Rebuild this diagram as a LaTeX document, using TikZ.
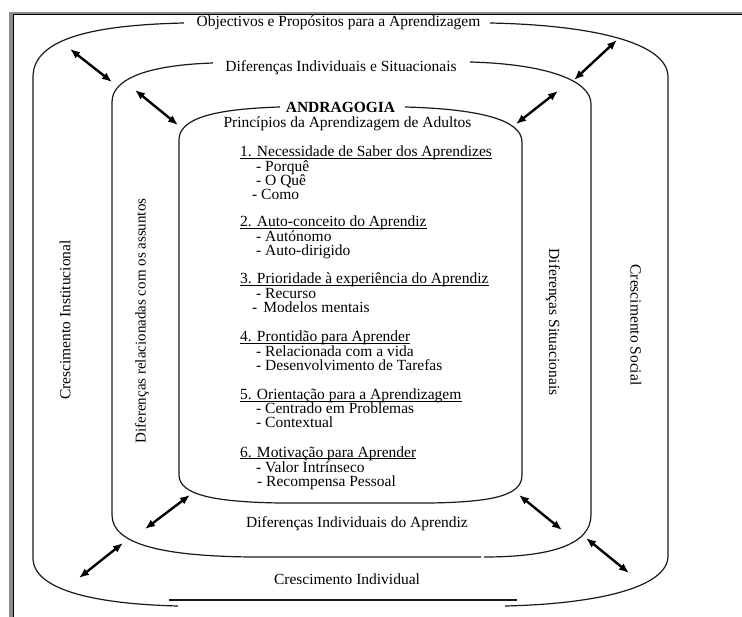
\documentclass[tikz,border=0pt]{standalone}
\usepackage{fontspec}
\setmainfont{Liberation Serif}
\usetikzlibrary{arrows.meta}
\begin{document}
\begin{tikzpicture}[x=1pt,y=-1pt,
  shapeline/.style={draw=black!90, line width=1.2pt},
  biarrow/.style={{Latex[length=10pt,width=8pt]}-{Latex[length=10pt,width=8pt]}, line width=2.4pt},
  txt/.style={font=\fontsize{15.5}{14}\selectfont, inner sep=0pt},
  item/.style={txt, anchor=base west},
  head/.style={item},
  uline/.style={line width=0.8pt}]
\useasboundingbox (0,0) rectangle (742,617);
% page frame
\fill[black!45] (9,12) rectangle (742,13.6);
\fill[black!45] (9,12) rectangle (12.6,617);
\draw[line width=1.1pt] (13.2,617) -- (13.2,14.2) -- (742,14.2);
% outer shape
\draw[shapeline] (184,23) .. controls (95,25) and (33,38) .. (33,77) -- (33,558)
   .. controls (33,590) and (95,604) .. (178,606);
\draw[shapeline] (490,23) .. controls (590,25) and (668,42) .. (668,77) -- (668,556)
   .. controls (668,588) and (595,604) .. (505,606);
\draw[shapeline] (169,600) -- (517,600);
% middle shape
\draw[shapeline] (213,63) .. controls (150,65) and (112,78) .. (112,102) -- (112,515)
   .. controls (112,545) and (165,556) .. (250,557) -- (481,557);
\draw[shapeline] (470,62) .. controls (545,64) and (591,80) .. (591,104) -- (591,515)
   .. controls (591,545) and (550,557) .. (484,557);
% inner shape
\draw[shapeline] (280,107) .. controls (215,109) and (179,118) .. (179,140) -- (179,475)
   .. controls (179,495) and (215,502) .. (280,503) -- (430,503)
   .. controls (495,502) and (522,495) .. (522,475) -- (522,142)
   .. controls (522,120) and (480,109) .. (405,107);
% arrows
\coordinate (a1s) at (70,49);   \coordinate (a1e) at (112,82);
\coordinate (a2s) at (135,90);  \coordinate (a2e) at (178,125);
\coordinate (a3s) at (617,40);  \coordinate (a3e) at (574,80);
\coordinate (a4s) at (558,91);  \coordinate (a4e) at (516,124);
\coordinate (a5s) at (190,495); \coordinate (a5e) at (145,529);
\coordinate (a6s) at (123,543); \coordinate (a6e) at (79,578);
\coordinate (a7s) at (519,495); \coordinate (a7e) at (562,530);
\coordinate (a8s) at (586,538); \coordinate (a8e) at (629,573);
\foreach \i in {1,...,8} {\draw[biarrow] (a\i s) -- (a\i e);}
% labels on the rings
\node[txt, anchor=base] (tOut) at (338.5,27) {Objectivos e Propósitos para a Aprendizagem};
\node[txt, anchor=base] (tMid) at (341,72) {Diferenças Individuais e Situacionais};
\node[txt, anchor=base, font=\fontsize{15.5}{14}\selectfont\bfseries] (tAnd) at (340.5,113) {ANDRAGOGIA};
\node[txt, anchor=base] (tPri) at (347.5,128) {Princípios da Aprendizagem de Adultos};
\node[txt, anchor=base] (tInner) at (357,527) {Diferenças Individuais do Aprendiz};
\node[txt, anchor=base] (tBot) at (347,584) {Crescimento Individual};
\node[txt, rotate=90] (sInst) at (65,320) {Crescimento Institucional};
\node[txt, rotate=90, font=\fontsize{15}{14}\selectfont] (sRel) at (142,321) {Diferenças relacionadas com os assuntos};
\node[txt, rotate=-90] (sSit) at (553,322) {Diferenças Situacionais};
\node[txt, rotate=-90] (sSoc) at (636,325) {Crescimento Social};
% list
\node[head] (h1) at (240,157) {1. Necessidade de Saber dos Aprendizes};
\node[item] (h1a) at (256,172) {- Porquê};
\node[item] (h1b) at (256,186) {- O Quê};
\node[item] (h1c) at (252,200) {- Como};
\node[head] (h2) at (240,227) {2. Auto-conceito do Aprendiz};
\node[item] (h2a) at (256,242) {- Autónomo};
\node[item] (h2b) at (256,256) {- Auto-dirigido};
\node[head] (h3) at (240,284) {3. Prioridade à experiência do Aprendiz};
\node[item] (h3a) at (256,299) {- Recurso};
\node[item] (h3b) at (252,313) {-\hspace{6pt}Modelos mentais};
\node[head] (h4) at (240,342) {4. Prontidão para Aprender};
\node[item] (h4a) at (256,357) {- Relacionada com a vida};
\node[item] (h4b) at (256,371) {- Desenvolvimento de Tarefas};
\node[head] (h5) at (240,400) {5. Orientação para a Aprendizagem};
\node[item] (h5a) at (256,414) {- Centrado em Problemas};
\node[item] (h5b) at (256,428) {- Contextual};
\node[head] (h6) at (240,457) {6. Motivação para Aprender};
\node[item] (h6a) at (256,472) {- Valor Intrínseco};
\node[item] (h6b) at (257,486) {- Recompensa Pessoal};
\foreach \h in {h1,h2,h3,h4,h5,h6}
  {\draw[uline] ([yshift=-1.5pt]\h.base west) -- ([yshift=-1.5pt]\h.base east);}
\end{tikzpicture}
\end{document}
